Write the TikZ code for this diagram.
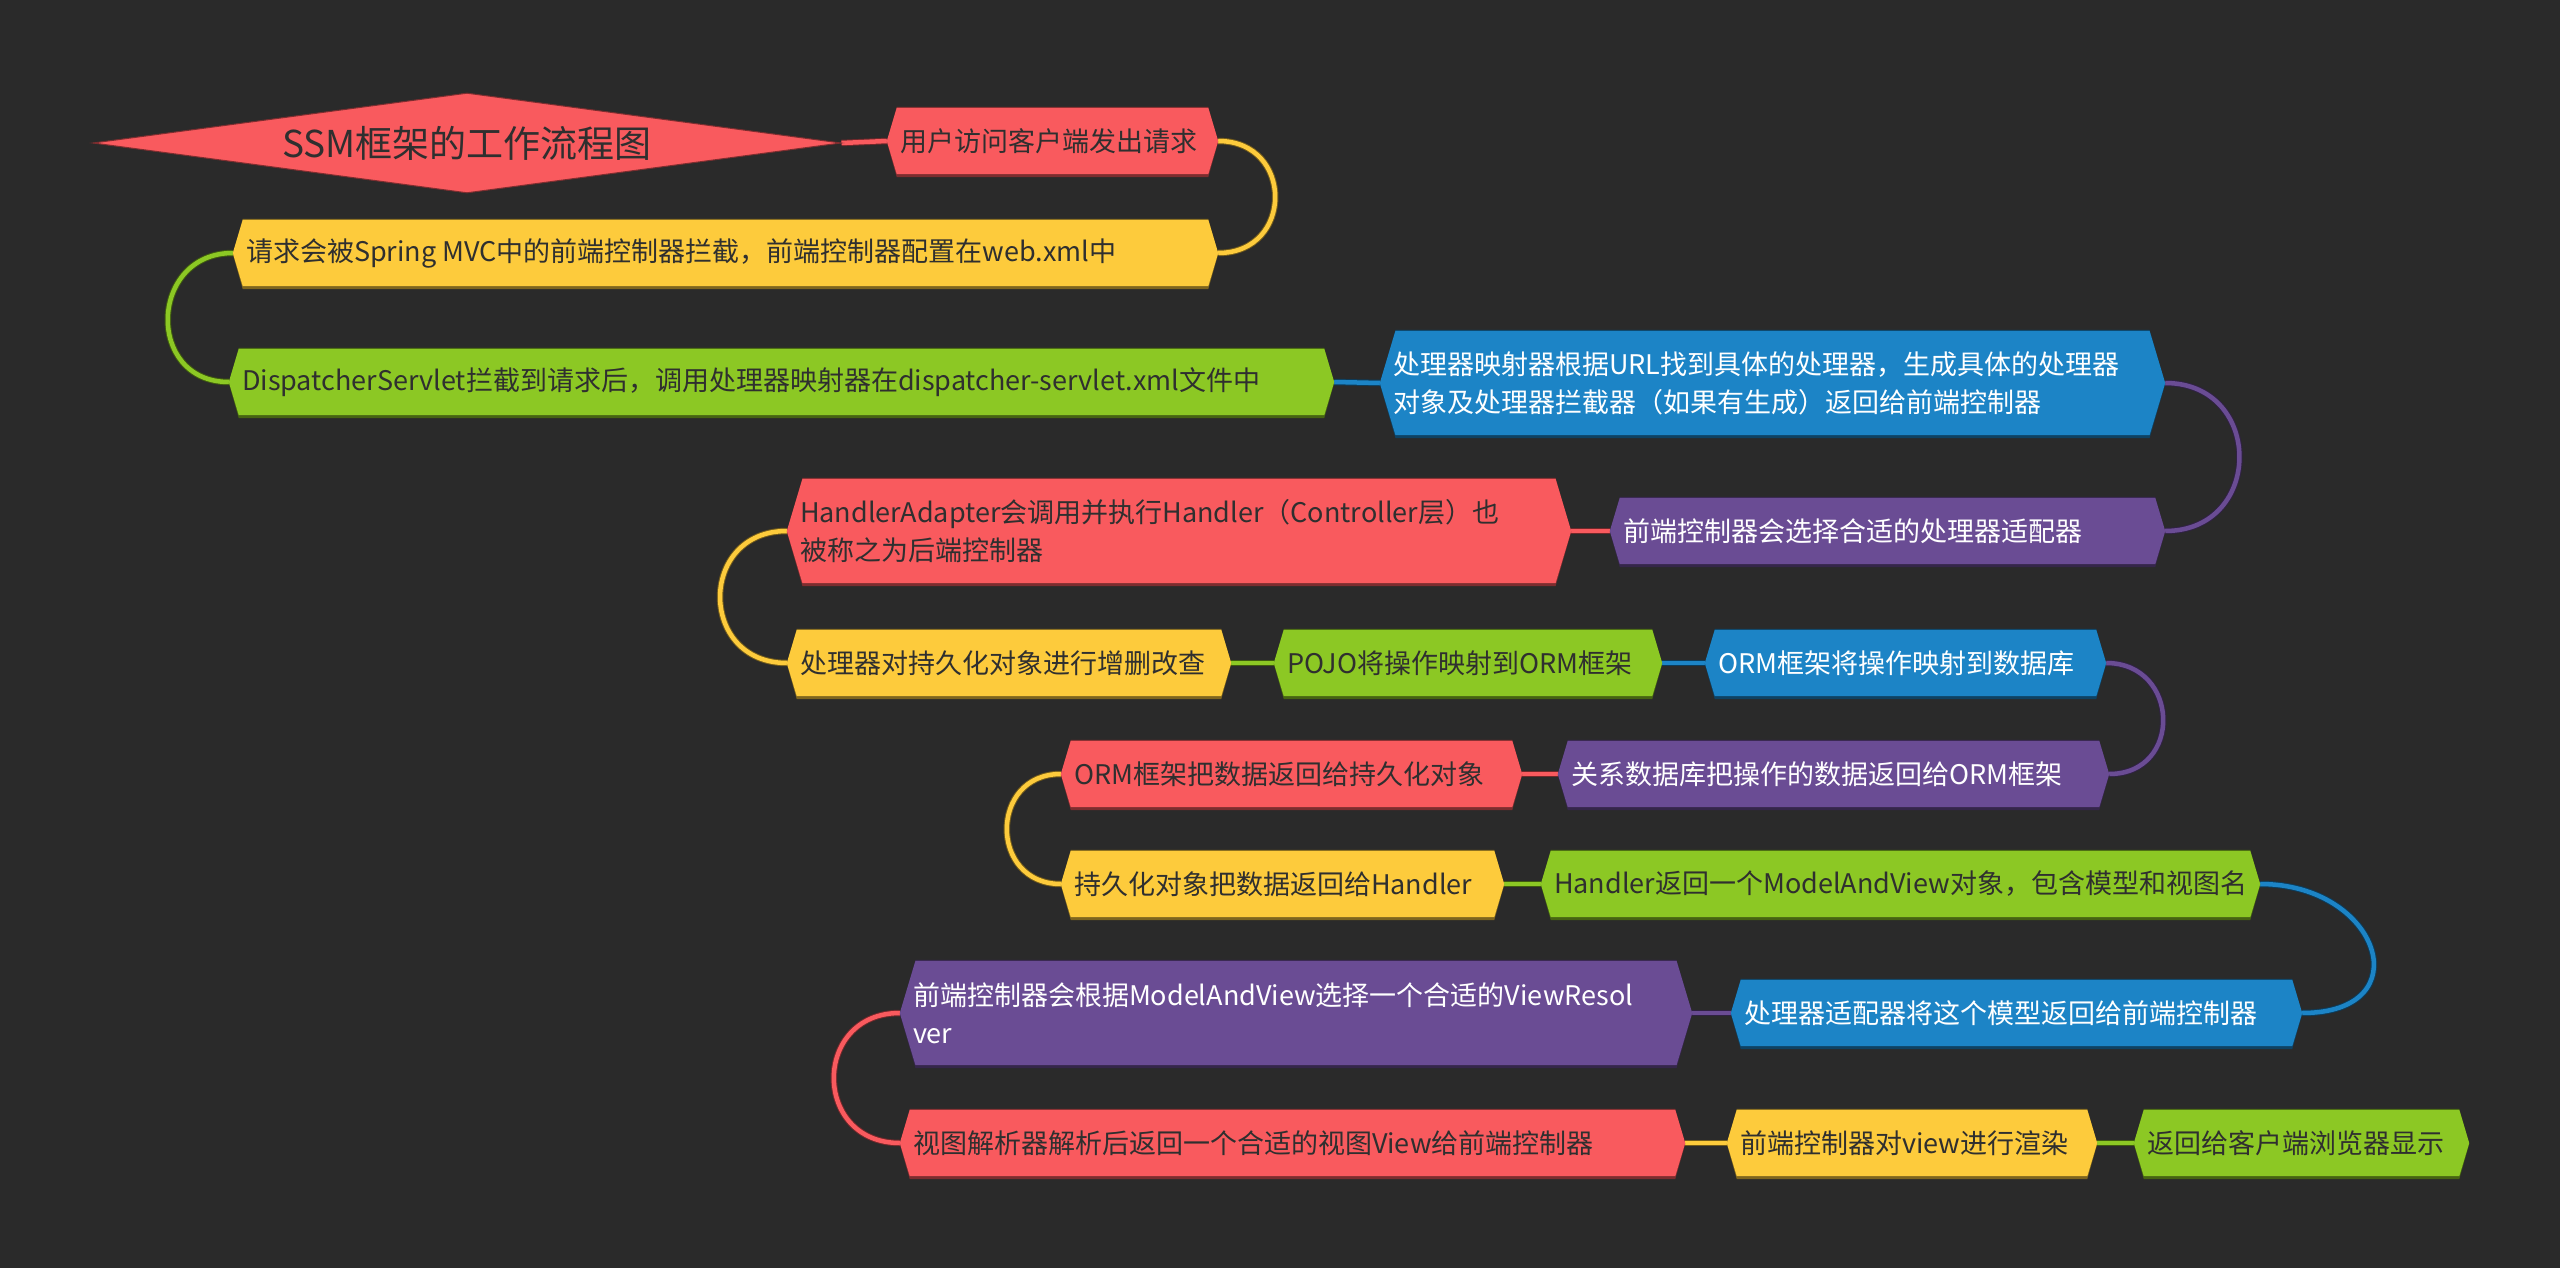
\documentclass[tikz,border=0pt]{standalone}
\usepackage{fontspec}
\setmainfont{Noto Sans CJK SC}
\usetikzlibrary{calc,shapes.geometric,backgrounds}
\definecolor{bgc}{HTML}{2A2A2A}
\definecolor{cred}{HTML}{F95A5E}
\definecolor{cyel}{HTML}{FDCB3C}
\definecolor{cgrn}{HTML}{8CC824}
\definecolor{cblu}{HTML}{1C84C6}
\definecolor{cpur}{HTML}{6A4C94}
\definecolor{dtext}{HTML}{2F2F2F}
\newcommand\hexbg[2]{%
 \fill[#2!50!black] let \p1=(#1.south west), \p2=(#1.north east), \n1={0.15*(\y2-\y1)}, \n2={(\y1+\y2)/2-1pt} in
   (\x1,\n2) -- (\x1+\n1,\y2+1pt) -- (\x2-\n1,\y2+1pt) -- (\x2,\n2) -- (\x2-\n1,\y1-3pt) -- (\x1+\n1,\y1-3pt) -- cycle;
 \fill[#2] let \p1=(#1.south west), \p2=(#1.north east), \n1={0.15*(\y2-\y1)}, \n2={(\y1+\y2)/2} in
   (\x1,\n2) -- (\x1+\n1,\y2) -- (\x2-\n1,\y2) -- (\x2,\n2) -- (\x2-\n1,\y1) -- (\x1+\n1,\y1) -- cycle;
}
\newcommand\lt[2]{\makebox[#1pt][l]{#2}}
\tikzset{
 box/.style={rectangle, inner xsep=13pt, inner ysep=0pt, minimum height=66pt, align=left,
   font=\fontsize{27}{38}\selectfont, text=dtext},
 wbox/.style={box, text=white},
 conn/.style={draw=#1!45!black, double=#1, double distance=4.5pt, line width=1pt},
}
\begin{document}
\begin{tikzpicture}[x=1pt,y=-1pt]
\begin{pgfonlayer}{background}
\fill[bgc] (0,0) rectangle (2560,1268);
\end{pgfonlayer}
\useasboundingbox (0,0) rectangle (2560,1268);

\node[diamond, aspect=7.5, inner sep=0pt, minimum width=748pt, minimum height=100pt,
  fill=cred, draw=cred!50!black, line width=1pt, text=dtext, font=\fontsize{37}{40}\selectfont]
  (n1) at (467,143) {SSM框架的工作流程图};

\node[box] (n2) at (1052.5,141) {\lt{305}{用户访问客户端发出请求}};
\node[box] (n3) at (725.5,253) {\lt{959}{请求会被Spring MVC中的前端控制器拦截，前端控制器配置在web.xml中}};
\node[box] (n4) at (781.5,382) {\lt{1079}{DispatcherServlet拦截到请求后，调用处理器映射器在dispatcher-servlet.xml文件中}};
\node[wbox, text width=759pt, minimum height=104pt] (n5) at (1772.5,383) {处理器映射器根据URL找到具体的处理器，生成具体的处理器\\对象及处理器拦截器（如果有生成）返回给前端控制器};
\node[wbox] (n6) at (1887.5,531) {\lt{529}{前端控制器会选择合适的处理器适配器}};
\node[box, text width=758pt, minimum height=104pt] (n7) at (1179,531) {HandlerAdapter会调用并执行Handler（Controller层）也\\被称之为后端控制器};
\node[box] (n8) at (1009,663) {\lt{418}{处理器对持久化对象进行增删改查}};
\node[box] (n9) at (1468,663) {\lt{362}{POJO将操作映射到ORM框架}};
\node[wbox] (n10) at (1905.5,663) {\lt{375}{ORM框架将操作映射到数据库}};
\node[wbox] (n11) at (1833.5,774) {\lt{525}{关系数据库把操作的数据返回给ORM框架}};
\node[box] (n12) at (1291.5,774) {\lt{435}{ORM框架把数据返回给持久化对象}};
\node[box] (n13) at (1282.5,884) {\lt{417}{持久化对象把数据返回给Handler}};
\node[box] (n14) at (1900.5,884) {\lt{693}{Handler返回一个ModelAndView对象，包含模型和视图名}};
\node[wbox] (n15) at (2016.5,1013) {\lt{545}{处理器适配器将这个模型返回给前端控制器}};
\node[wbox, text width=766pt, minimum height=104pt] (n16) at (1296,1013) {前端控制器会根据ModelAndView选择一个合适的ViewResol\\ver};
\node[box] (n17) at (1292.5,1143) {\lt{759}{视图解析器解析后返回一个合适的视图View给前端控制器}};
\node[box] (n18) at (1912,1143) {\lt{344}{前端控制器对view进行渲染}};
\node[box] (n19) at (2301.5,1143) {\lt{309}{返回给客户端浏览器显示}};

\begin{pgfonlayer}{background}
\draw[conn=cred] (n1.east) -- (n2.west);
\draw[conn=cyel] (n2.east) .. controls +(76,0) and +(76,0) .. (n3.east);
\draw[conn=cgrn] (n3.west) .. controls +(-84,0) and +(-84,0) .. (n4.west);
\draw[conn=cblu] (n4.east) -- (n5.west);
\draw[conn=cpur] (n5.east) .. controls +(99,0) and +(99,0) .. (n6.east);
\draw[conn=cred] (n6.west) -- (n7.east);
\draw[conn=cyel] (n7.west) .. controls +(-89,0) and +(-89,0) .. (n8.west);
\draw[conn=cgrn] (n8.east) -- (n9.west);
\draw[conn=cblu] (n9.east) -- (n10.west);
\draw[conn=cpur] (n10.east) .. controls +(74,0) and +(74,0) .. (n11.east);
\draw[conn=cred] (n11.west) -- (n12.east);
\draw[conn=cyel] (n12.west) .. controls +(-72,0) and +(-72,0) .. (n13.west);
\draw[conn=cgrn] (n13.east) -- (n14.west);
\draw[conn=cblu] (n14.east) .. controls +(120,0) and +(120,0) .. (n15.east);
\draw[conn=cpur] (n15.west) -- (n16.east);
\draw[conn=cred] (n16.west) .. controls +(-88,0) and +(-88,0) .. (n17.west);
\draw[conn=cyel] (n17.east) -- (n18.west);
\draw[conn=cgrn] (n18.east) -- (n19.west);
\hexbg{n2}{cred}
\hexbg{n3}{cyel}
\hexbg{n4}{cgrn}
\hexbg{n5}{cblu}
\hexbg{n6}{cpur}
\hexbg{n7}{cred}
\hexbg{n8}{cyel}
\hexbg{n9}{cgrn}
\hexbg{n10}{cblu}
\hexbg{n11}{cpur}
\hexbg{n12}{cred}
\hexbg{n13}{cyel}
\hexbg{n14}{cgrn}
\hexbg{n15}{cblu}
\hexbg{n16}{cpur}
\hexbg{n17}{cred}
\hexbg{n18}{cyel}
\hexbg{n19}{cgrn}
\end{pgfonlayer}
\end{tikzpicture}
\end{document}
